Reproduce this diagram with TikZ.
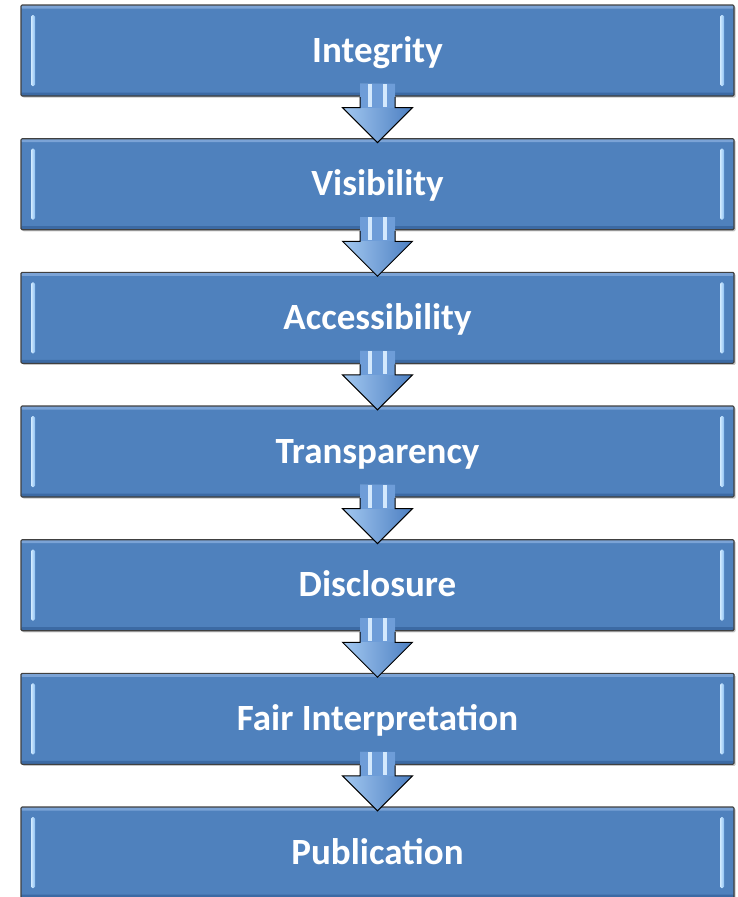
\documentclass[tikz,border=0pt]{standalone}
\usepackage{fontspec}
\setmainfont{Carlito}
\usetikzlibrary{shadows,calc}
\definecolor{boxblue}{HTML}{4F81BD}
\definecolor{boxtop}{HTML}{7BA3D6}
\definecolor{boxbot}{HTML}{3C6AA4}
\definecolor{hlA}{HTML}{D2EBFF}
\definecolor{hlB}{HTML}{8EC0F2}
\definecolor{arrL}{HTML}{A3C8F0}
\definecolor{arrR}{HTML}{4C7FC2}
\definecolor{arrS}{HTML}{6E9DD8}
\definecolor{stripe}{HTML}{D4E9FD}
\begin{document}
\begin{tikzpicture}[x=1pt,y=-1pt,
  box/.style={draw=black!75, line width=1.1pt, fill=boxblue, rounded corners=1.2pt,
    minimum width=713pt, minimum height=91pt, inner sep=0pt,
    text height=23.5pt, text depth=0pt,
    font=\bfseries\fontsize{37}{44}\selectfont, text=white,
    drop shadow={shadow xshift=1.6pt, shadow yshift=-1.6pt, opacity=0.45},
    path picture={
      \fill[boxtop] (path picture bounding box.north west) rectangle ([yshift=-3.5pt]path picture bounding box.north east);
      \fill[boxbot] ([yshift=3.5pt]path picture bounding box.south west) rectangle (path picture bounding box.south east);
      \shade[left color=hlA, right color=hlB, rounded corners=1.5pt]
        ([xshift=10pt,yshift=-10pt]path picture bounding box.north west) rectangle
        ([xshift=14pt,yshift=10pt]path picture bounding box.south west);
      \shade[left color=hlA, right color=hlB, rounded corners=1.5pt]
        ([xshift=-14pt,yshift=-10pt]path picture bounding box.north east) rectangle
        ([xshift=-10pt,yshift=10pt]path picture bounding box.south east);
    }},
  arrfill/.style={left color=arrL, right color=arrR},
  arrline/.style={draw=black, line width=1pt, line join=miter}
]
\useasboundingbox (0,0) rectangle (737,897);
\node[box] (b1) at (377.5,50.5) {Integrity};
\node[box] (b2) at (377.5,184.2) {Visibility};
\node[box] (b3) at (377.5,317.8) {Accessibility};
\node[box] (b4) at (377.5,451.5) {Transparency};
\node[box] (b5) at (377.5,585.2) {Disclosure};
\node[box] (b6) at (377.5,718.8) {Fair Interpretation};
\node[box] (b7) at (377.5,852.5) {Publication};
\foreach \i in {1,...,6}{
  \begin{scope}[shift={(b\i.south)}]
    \shade[arrfill] (-17.5,-13) -- (17.5,-13) -- (17.5,11) -- (35,11) -- (0,46) -- (-35,11) -- (-17.5,11) -- cycle;
    \fill[arrS] (-17.5,-13) rectangle (17.5,11);
    \fill[stripe] (-9.5,-13) rectangle (-5.5,10);
    \fill[stripe] (5.5,-13) rectangle (9.5,10);
    \draw[arrline] (-17.5,0.5) -- (-17.5,11) -- (-35,11) -- (0,46) -- (35,11) -- (17.5,11) -- (17.5,0.5);
  \end{scope}
}
\end{tikzpicture}
\end{document}
